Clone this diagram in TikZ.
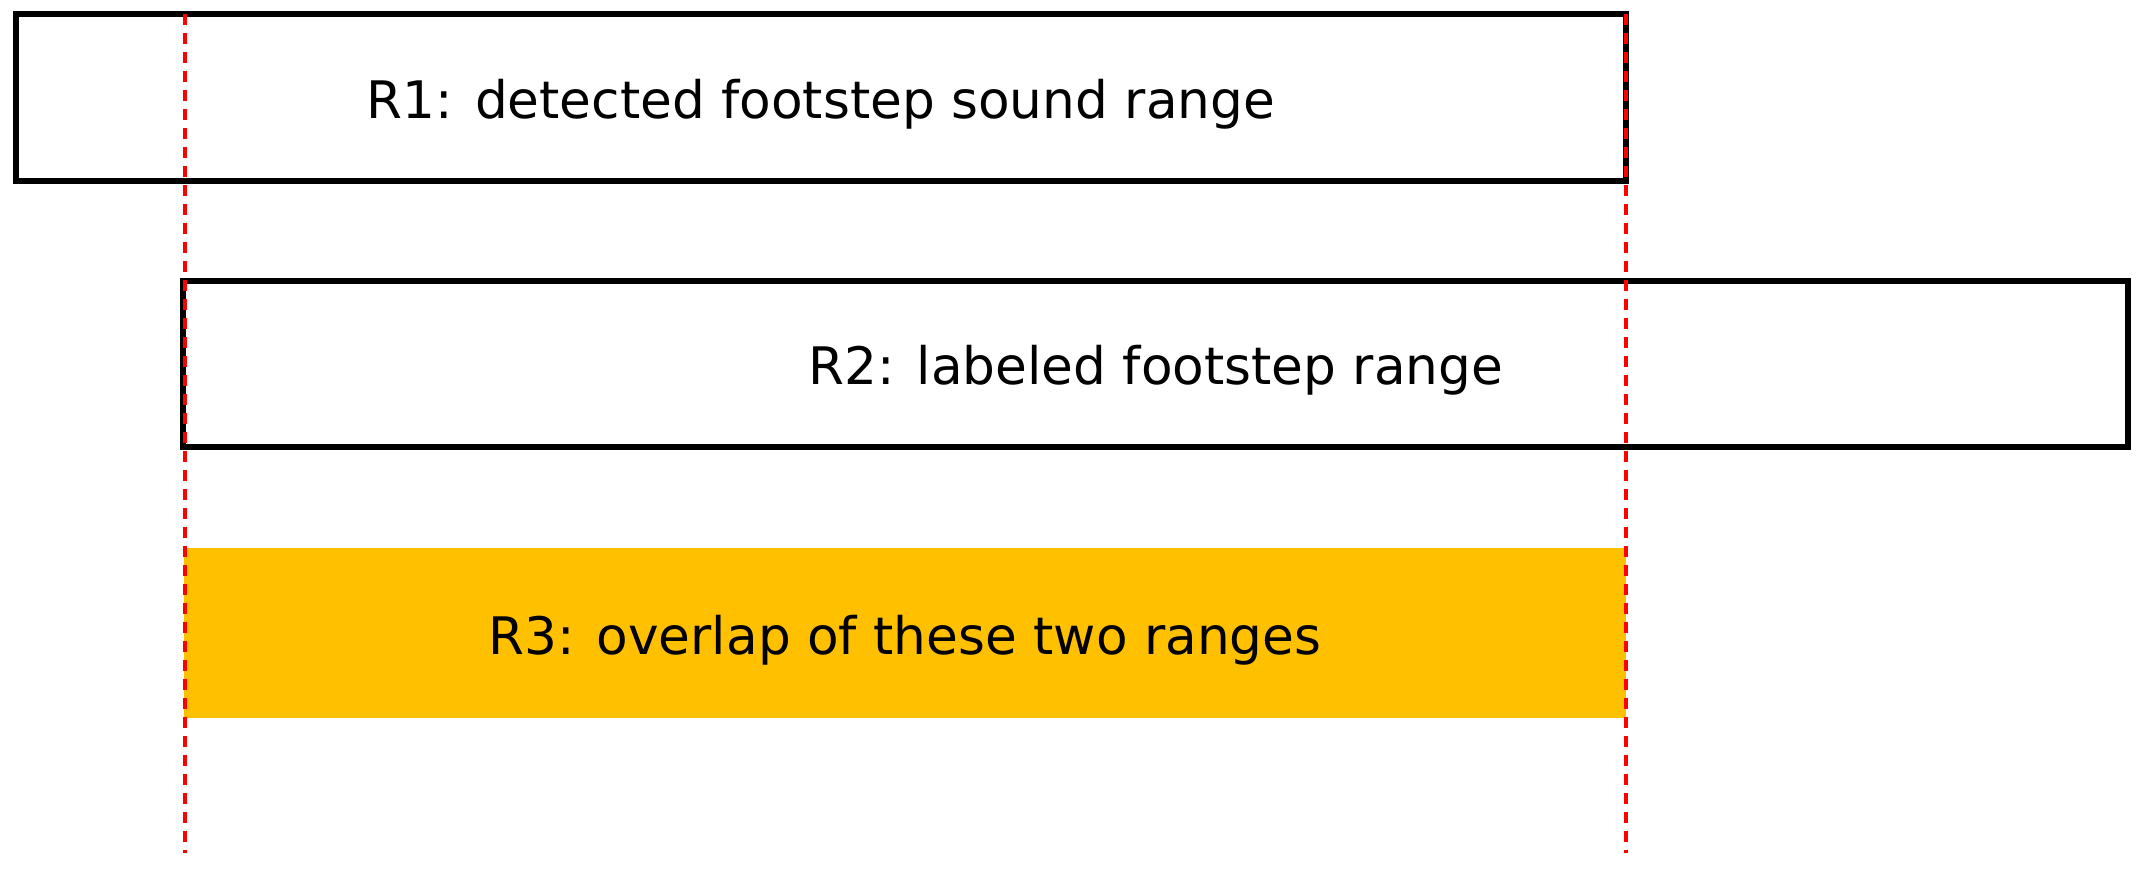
\documentclass[tikz,border=0pt]{standalone}
\usepackage{fontspec}
\setmainfont{DejaVu Sans}
\definecolor{overlapfill}{HTML}{FFC000}
\definecolor{guidered}{HTML}{FF0000}
\begin{document}
\begin{tikzpicture}[x=0.01cm,y=-0.01cm,
  rangebox/.style={draw=black, line width=1.5pt, fill=white},
  overlapbox/.style={fill=overlapfill, draw=none},
  boxlabel/.style={font=\fontsize{14.7pt}{17pt}\selectfont, text=black, inner sep=0pt},
  guide/.style={draw=guidered, line width=0.9pt, dash pattern=on 3.2pt off 2.2pt}]
\useasboundingbox (0,0) rectangle (2142,881);
% boxes
\path[rangebox] (16,14) rectangle (1626,181);
\path[rangebox] (183,281) rectangle (2128,447);
\path[overlapbox] (184,548) rectangle (1626,718);
% labels
\node[boxlabel] (r1) at (821,104) {R1: detected footstep sound range};
\node[boxlabel] (r2) at (1156,370) {R2: labeled footstep range};
\node[boxlabel] (r3) at (905,640) {R3: overlap of these two ranges};
% guides
\coordinate (gla) at (185,14);
\coordinate (glb) at (185,853);
\coordinate (gra) at (1626,14);
\coordinate (grb) at (1626,853);
\draw[guide] (gla) -- (glb);
\draw[guide] (gra) -- (grb);
\end{tikzpicture}
\end{document}
